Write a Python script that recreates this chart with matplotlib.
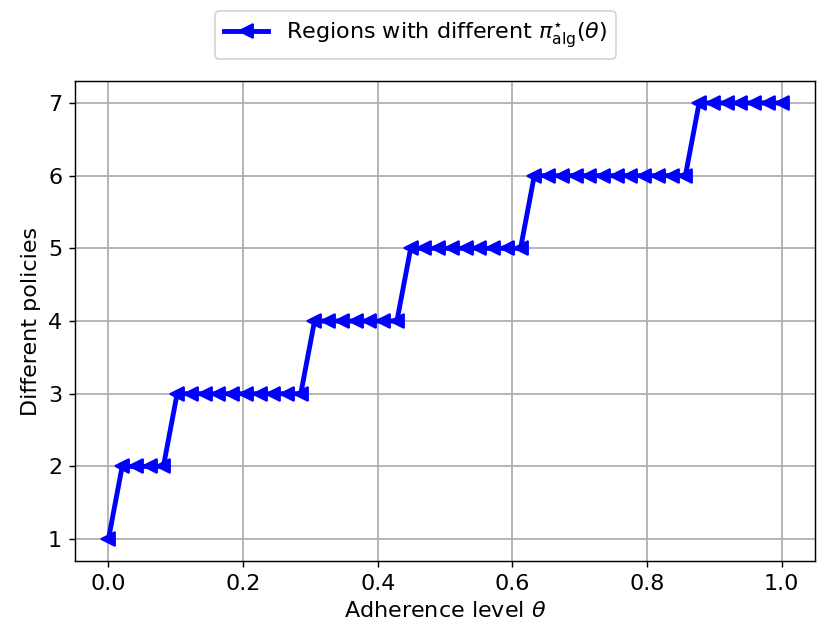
import numpy as np
import matplotlib
matplotlib.use("Agg")
import matplotlib.pyplot as plt

plt.rcParams['font.size'] = 12.3

# adherence grid (50 levels between 0 and 1)
theta = np.linspace(0, 1, 50)

# number of different policies at each adherence level
policies = [1,
            2, 2, 2, 2,
            3, 3, 3, 3, 3, 3, 3, 3, 3, 3,
            4, 4, 4, 4, 4, 4, 4,
            5, 5, 5, 5, 5, 5, 5, 5, 5,
            6, 6, 6, 6, 6, 6, 6, 6, 6, 6, 6, 6,
            7, 7, 7, 7, 7, 7, 7]

fig = plt.figure(figsize=(831/130, 644/130), dpi=130)
ax = fig.add_axes([0.090, 0.129, 0.891, 0.745])

ax.plot(theta, policies, color='blue', marker='<', linewidth=2.7, markersize=7.5,
        label=r'Regions with different $\pi^{\star}_{\mathrm{alg}}(\theta)$')
ax.set_xlim(-0.05, 1.05)
ax.set_ylim(0.7, 7.3)
ax.set_xlabel(r'Adherence level $\theta$')
ax.set_ylabel('Different policies')
ax.grid(True, color='#b0b0b0', linewidth=1.0)
ax.set_axisbelow(True)

fig.legend(loc='upper center', bbox_to_anchor=(0.5, 1.0), numpoints=1)

fig.savefig('out.png', dpi=130)
